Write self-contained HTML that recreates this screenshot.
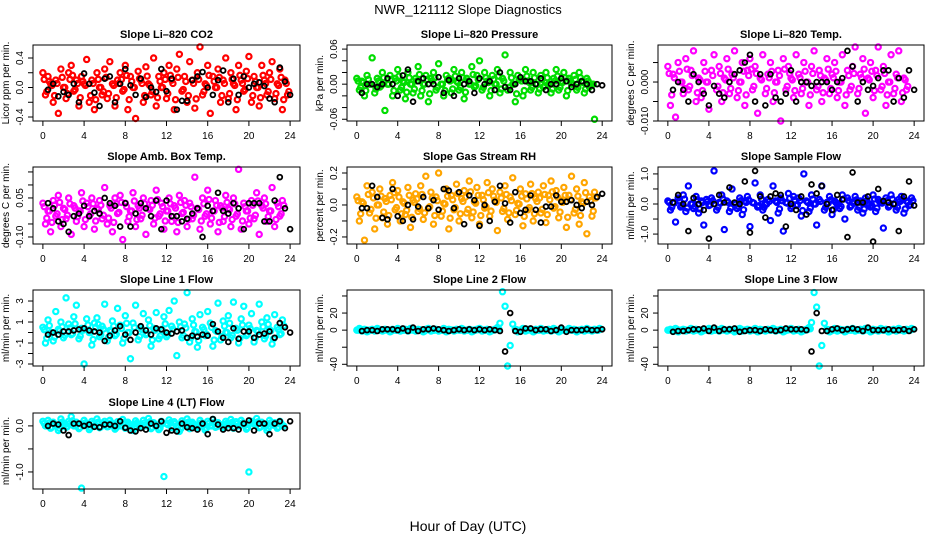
<!DOCTYPE html>
<html><head><meta charset="utf-8">
<style>
html,body{margin:0;padding:0;background:#fff;}
svg{display:block;font-family:"Liberation Sans",sans-serif;}
</style></head>
<body>
<svg id="chart" width="936" height="540" viewBox="0 0 936 540">
<text x="468" y="14" text-anchor="middle" font-size="13">NWR_121112  Slope Diagnostics</text>
<text x="468" y="531" text-anchor="middle" font-size="14">Hour of Day (UTC)</text>
</svg>
<script>
const hours=[0,0.25,0.5,0.75,1,1.25,1.5,1.75,2,2.25,2.5,2.75,3,3.25,3.5,3.75,4,4.25,4.5,4.75,5,5.25,5.5,5.75,6,6.25,6.5,6.75,7,7.25,7.5,7.75,8,8.25,8.5,8.75,9,9.25,9.5,9.75,10,10.25,10.5,10.75,11,11.25,11.5,11.75,12,12.25,12.5,12.75,13,13.25,13.5,13.75,14,14.25,14.5,14.75,15,15.25,15.5,15.75,16,16.25,16.5,16.75,17,17.25,17.5,17.75,18,18.25,18.5,18.75,19,19.25,19.5,19.75,20,20.25,20.5,20.75,21,21.25,21.5,21.75,22,22.25,22.5,22.75,23,23.25,23.5,23.75];
const blackHours=[0.5,1,1.5,2,2.5,3,3.5,4,4.5,5,5.5,6,6.5,7,7.5,8,8.5,9,9.5,10,10.5,11,11.5,12,12.5,13,13.5,14,14.5,15,15.5,16,16.5,17,17.5,18,18.5,19,19.5,20,20.5,21,21.5,22,22.5,23,23.5,24];
const xTicks=[0,4,8,12,16,20,24];

const co2=[0.2,-0.1,0.15,0.05,-0.2,0.1,-0.35,0.25,0.0,-0.15,0.2,0.3,-0.05,0.1,-0.25,0.15,0.05,0.38,-0.2,0.1,-0.3,0.2,0.0,-0.1,
0.25,-0.15,0.35,0.05,-0.25,0.1,0.2,-0.05,0.3,-0.3,0.15,0.0,-0.42,0.22,0.1,-0.2,0.28,0.05,-0.1,0.4,-0.25,0.15,0.0,0.2,
-0.15,0.3,0.1,-0.3,0.25,0.45,-0.05,0.15,-0.2,0.35,0.1,-0.28,0.2,0.55,-0.1,0.05,0.3,-0.35,0.15,0.0,0.25,-0.2,0.1,0.4,
-0.15,0.2,0.05,-0.3,0.3,0.1,-0.05,0.22,0.42,-0.2,0.15,0.0,-0.25,0.3,0.1,-0.1,0.2,0.35,-0.15,0.05,0.25,-0.3,0.1,-0.1];
const co2Black=[-0.03,0.05,-0.12,-0.06,-0.1,0.05,-0.2,0.19,0.05,-0.07,-0.25,0.12,0.15,-0.2,0.05,0.25,0.03,-0.1,0.12,-0.13,0.0,-0.06,0.25,-0.05,0.12,-0.3,-0.18,-0.18,0.1,0.15,0.21,0.0,-0.1,0.1,0.23,-0.2,0.12,-0.1,0.15,0.0,0.05,0.07,0.02,-0.15,-0.2,0.27,0.08,-0.1];

const pres=[0.01,-0.01,0.005,-0.02,0.015,0.0,0.045,-0.015,0.01,-0.005,0.02,-0.045,0.0,0.015,-0.02,0.01,0.025,-0.01,0.005,-0.025,0.02,0.0,-0.015,0.01,
0.03,-0.02,0.0,0.015,-0.03,0.01,0.02,-0.01,0.035,0.0,-0.02,0.015,0.01,-0.015,0.025,0.005,-0.01,0.02,-0.025,0.01,0.0,0.03,-0.005,0.015,
0.04,-0.01,0.02,0.005,-0.02,0.015,0.0,0.025,-0.015,0.01,0.05,-0.01,0.02,0.0,-0.03,0.015,0.01,-0.02,0.025,0.005,-0.01,0.02,0.0,-0.015,
0.015,-0.005,0.02,0.0,-0.015,0.01,0.025,-0.01,0.005,0.02,-0.02,0.01,0.0,0.015,-0.01,0.02,0.005,-0.015,0.01,-0.005,0.0,-0.06];
const presBlack=[-0.015,0.0,0.0,-0.005,0.0,0.01,0.0,-0.02,0.015,0.025,-0.03,0.005,0.01,0.0,0.0,0.012,-0.015,0.007,-0.02,0.01,0.0,0.005,-0.015,0.01,0.0,0.005,-0.01,0.02,-0.005,-0.01,0.0,0.012,0.005,0.005,0.0,0.01,-0.01,0.0,0.0,0.01,0.005,-0.005,0.0,0.005,0.0,-0.01,0.0,-0.002];

const temp=[0.004,-0.006,0.002,-0.009,0.005,0.0,-0.003,0.006,-0.002,0.003,0.008,-0.005,0.001,-0.004,0.005,0.0,-0.007,0.003,0.007,-0.002,0.004,-0.005,0.001,0.006,
-0.003,0.002,0.008,-0.004,0.0,0.005,-0.006,0.003,0.006,-0.002,0.004,-0.008,0.001,0.007,-0.003,0.002,0.005,-0.005,0.0,0.003,-0.01,0.006,-0.002,0.004,
0.001,-0.004,0.007,0.002,-0.003,0.005,0.0,-0.006,0.004,0.008,-0.002,0.003,-0.005,0.001,0.006,-0.003,0.002,0.005,-0.004,0.0,0.007,-0.006,0.003,-0.002,
0.004,0.009,-0.003,0.002,0.006,-0.008,0.001,0.005,-0.004,0.003,0.009,-0.002,0.004,-0.006,0.0,0.007,-0.003,0.002,0.008,-0.005,0.001,-0.002];
const tempBlack=[-0.002,0.0,-0.002,-0.005,0.002,0.0,-0.003,-0.006,-0.001,-0.003,-0.004,0.0,0.002,0.003,0.005,0.007,-0.005,0.002,-0.006,0.002,-0.004,-0.005,-0.003,0.003,-0.005,0.0,0.0,-0.001,0.0,0.0,0.0,-0.002,0.0,0.001,0.008,0.004,-0.005,0.0,-0.002,-0.001,0.001,0.003,0.003,-0.005,0.001,-0.004,0.003,-0.002];

const amb=[0.03,-0.05,0.0,-0.08,0.04,-0.02,0.06,-0.06,0.01,-0.03,0.05,-0.09,0.02,-0.04,0.0,0.07,-0.06,0.03,-0.02,0.05,-0.07,0.01,0.04,-0.03,
0.09,-0.05,0.02,-0.08,0.05,-0.01,0.06,-0.11,0.03,-0.04,0.0,0.07,-0.06,0.02,-0.03,0.05,-0.09,0.01,0.04,-0.05,0.08,-0.02,0.03,-0.07,
0.0,0.05,-0.04,0.02,-0.08,0.06,-0.01,0.04,-0.06,0.03,-0.03,0.13,0.01,-0.07,0.05,-0.02,0.08,-0.05,0.0,0.04,-0.08,0.02,-0.04,0.06,
0.01,-0.06,0.05,-0.02,0.16,-0.07,0.03,0.0,-0.05,0.04,-0.03,0.07,-0.09,0.02,0.05,-0.04,0.0,0.09,-0.06,0.03,-0.02,0.04];
const ambBlack=[0.03,0.01,-0.04,-0.05,-0.08,-0.02,-0.01,0.02,-0.02,0.0,-0.01,0.05,0.03,0.02,-0.06,0.03,-0.06,-0.01,0.03,0.01,-0.02,0.04,-0.07,0.04,-0.02,-0.02,-0.04,-0.03,-0.01,0.01,-0.1,0.02,0.0,0.07,0.0,-0.01,0.03,0.01,-0.07,0.03,0.03,0.03,-0.04,-0.04,0.04,0.13,0.01,-0.07];

const rh=[0.05,-0.1,0.02,-0.22,0.12,-0.05,0.08,-0.15,0.0,0.1,-0.08,0.04,-0.12,0.06,0.14,-0.03,0.09,-0.1,0.02,-0.06,0.11,-0.14,0.03,0.07,
-0.04,0.12,-0.09,0.18,-0.02,0.08,-0.12,0.05,0.2,-0.07,0.01,0.1,-0.15,0.06,-0.03,0.13,-0.1,0.04,0.09,-0.05,0.15,-0.08,0.02,0.11,
-0.12,0.06,-0.02,0.14,-0.07,0.1,0.03,-0.16,0.08,-0.04,0.12,-0.09,0.05,0.17,-0.06,0.01,0.1,-0.13,0.07,-0.03,0.13,-0.1,0.04,0.08,
-0.05,0.12,-0.11,0.06,0.15,-0.02,0.09,-0.08,0.03,0.11,-0.14,0.06,0.18,-0.05,0.1,-0.12,0.02,0.14,-0.18,0.05,-0.07,0.08];
const rhBlack=[-0.02,-0.02,0.12,0.05,-0.08,-0.09,0.1,-0.07,-0.1,0.0,-0.09,-0.01,0.05,-0.02,0.03,-0.03,0.1,0.09,-0.02,0.08,-0.12,0.06,0.03,-0.13,0.0,-0.1,0.02,0.12,0.01,-0.11,0.08,-0.05,-0.03,0.06,-0.03,-0.11,-0.01,-0.01,0.06,0.02,0.02,0.03,0.0,-0.02,0.02,0.0,0.05,0.07];

const flow=[0.1,-0.2,0.05,-0.6,0.2,-0.1,0.3,-0.25,0.6,0.0,-0.15,0.25,-0.3,0.1,-0.7,0.15,-0.05,0.2,1.1,-0.2,0.05,0.3,-0.85,0.1,
-0.25,0.5,0.0,-0.15,0.2,-0.35,0.1,0.25,-0.75,0.05,0.7,-0.1,0.3,-0.2,0.0,0.15,-0.55,0.6,0.1,-0.3,0.2,-0.9,0.05,0.35,
-0.15,0.25,-0.05,0.2,-0.4,1.0,0.1,-0.25,0.3,0.0,-0.7,0.15,0.6,-0.2,0.05,0.25,-0.35,0.1,0.0,-0.15,0.3,-0.5,0.2,-0.1,
0.05,0.25,-0.2,0.1,-0.3,0.2,0.0,-0.1,0.3,-0.25,0.15,0.05,-0.8,0.2,-0.1,0.3,0.0,-0.2,0.15,0.25,-0.3,0.1,-0.05,0.2];
const flowBlack=[0.05,0.3,0.0,-0.9,0.2,0.0,-0.2,-1.15,0.0,0.3,0.05,0.55,0.05,0.0,0.75,-0.95,1.1,0.25,-0.45,0.25,0.35,0.3,-0.75,0.0,-0.2,0.25,-0.35,0.65,0.35,0.6,0.0,-0.2,0.3,0.15,-1.1,1.05,0.05,0.05,0.25,-1.25,0.5,0.1,0.05,0.0,-0.9,0.25,0.75,-0.05];

const l1=[0.5,-1,1.2,0,-0.8,2,0.3,1,-0.5,3.3,0.8,-0.2,1.5,2.6,-0.6,0.4,-3,1.3,0,-1.2,0.9,1.4,-0.4,0.6,
2.7,-0.8,0.2,1.1,-0.3,2.3,0.7,-1,1.6,0,-2.5,0.9,2.6,-0.7,0.5,1.8,-0.2,1.2,-1.3,0.4,1.9,-0.6,0.3,1.5,
-0.4,2.1,0.6,3,-2.2,1,-0.5,0.8,3.8,-0.9,1.3,0.1,-1.4,1.7,0.5,-0.3,2,0.9,-1.3,0.2,2.8,-0.7,1.1,0,
1.6,-0.5,2.9,0.4,-1,1.3,2.5,-0.3,0.7,1.8,-0.9,0.2,2.7,1,-0.6,1.4,0.3,-1.1,1.7,0.5,-0.2,1.2];
const l1Black=[-0.2,0,-0.2,0.1,0.1,0.2,0.3,0.4,0.2,0.1,0,-0.8,-0.3,0.2,0.6,-0.2,-0.7,0,0.6,0.2,-0.2,0.4,0.3,0,-0.1,0.1,0.2,-0.5,-0.3,-0.4,-0.2,-0.3,0.8,0.1,-0.5,-0.9,0.4,-0.6,0.1,0.1,-0.5,-0.2,-0.1,0.1,-0.5,0.9,0.5,0];

const l2=[0,2,-1,1,-2,0,1,-1,2,0,-1,1,0,-2,1,0,2,-1,0,1,-1,2,0,-1,
1,0,-2,1,2,-1,0,1,-1,0,2,-2,1,0,-1,1,0,2,-1,0,1,-2,0,1,
2,-1,0,1,-2,0,1,3,8,45,28,-42,-18,7,1,-2,0,2,-1,1,0,-2,1,0,
2,-1,0,1,-1,2,0,-2,1,0,-1,2,0,1,-2,0,1,-1,2,0,-1,1,0,2];
const l2Black=[-1,0,0,-1,1,1,1,0,2,-1,3,-1,1,1,2,1,0,-1,0,1,0,1,0,1,0,1,0,-1,-25,20,-1,-2,2,2,0,1,1,-1,0,3,-2,0,0,0,1,0,0,1];

const l3=[0,1,-1,2,-2,0,1,-1,0,2,-1,1,0,-2,1,0,2,-1,0,1,-1,2,0,-1,
1,0,-2,1,2,-1,0,1,-1,0,2,-2,1,0,-1,1,0,2,-1,0,1,-2,0,1,
2,-1,0,1,-2,0,1,3,9,44,27,-42,-18,8,1,-2,0,2,-1,1,0,-2,1,0,
2,-1,0,1,-1,2,0,-2,1,0,-1,2,0,1,-2,0,1,-1,2,0,-1,1,0,2];
const l3Black=[-2,-1,-1,0,1,1,2,-1,3,-1,1,1,2,-2,-1,0,0,-1,1,0,-1,0,2,1,1,1,0,-25,20,-1,-1,1,2,0,1,2,1,-1,3,0,0,0,1,0,0,1,-1,1];

const l4=[0.1,0.0,0.12,-0.05,0.08,0.02,-0.1,0.15,0.05,-0.03,0.1,0.2,0.0,0.08,-0.06,-1.35,0.12,0.03,-0.08,0.1,0.0,0.15,-0.04,0.06,
0.1,-0.02,0.12,0.05,-0.07,0.09,0.0,0.14,-0.05,0.08,0.02,-0.1,0.11,0.04,-0.03,0.12,0.0,0.16,-0.06,0.07,0.02,-0.08,0.1,-1.1,
0.05,0.13,-0.04,0.09,0.0,-0.12,0.11,0.03,0.15,-0.06,0.08,0.01,-0.05,0.12,0.04,-0.09,0.1,0.0,0.14,-0.03,0.07,0.02,-0.06,0.1,
0.04,0.14,-0.05,0.09,0.0,0.12,0.03,-0.07,-1.0,0.1,0.05,0.16,-0.04,0.08,0.0,-0.1,0.12,0.03,0.07,-0.05,0.1,0.0];
const l4Black=[0.0,0.05,0.03,-0.1,-0.2,0.05,0.05,0.0,0.03,-0.02,-0.03,0.03,0.03,0.0,0.1,-0.04,-0.1,-0.12,-0.05,-0.08,0.05,0.0,0.1,-0.15,-0.1,-0.12,0.05,-0.03,-0.05,-0.08,0.05,-0.18,0.15,0.03,-0.08,-0.05,-0.05,-0.08,0.05,0.12,-0.1,0.05,0.05,-0.18,0.05,0.1,-0.05,0.1];

const titles=["Slope Li\u2013820 CO2","Slope Li\u2013820 Pressure","Slope Li\u2013820 Temp.","Slope Amb. Box Temp.","Slope Gas Stream RH","Slope Sample Flow","Slope Line 1 Flow","Slope Line 2 Flow","Slope Line 3 Flow","Slope Line 4 (LT) Flow"];
const yTitles=["Licor ppm per min.","kPa per min.","degrees C per min.","degrees C per min.","percent per min.","ml/min per min.","ml/min per min.","ml/min per min.","ml/min per min.","ml/min per min."];
const yTickSets=[[-0.4,-0.2,0,0.2,0.4],[-0.06,-0.04,-0.02,0,0.02,0.04,0.06],[-0.01,-0.005,0,0.005],[-0.1,-0.05,0,0.05,0.1,0.15],[-0.2,-0.1,0,0.1,0.2],[-1,-0.5,0,0.5,1],[-3,-2,-1,0,1,2,3],[-40,-20,0,20,40],[-40,-20,0,20,40],[-1,-0.5,0]];
const yTickLabels=[["-0.4","","0.0","","0.4"],["-0.06","","","0.00","","","0.06"],["-0.010","","0.000",""],["-0.10","","","0.05","",""],["-0.2","","0.0","","0.2"],["-1.0","","0.0","","1.0"],["-3","","-1","","1","","3"],["-40","","0","20",""],["-40","","0","20",""],["-1.0","","0.0"]];
const yLims=[[-0.454,0.576],[-0.063,0.067],[-0.0100,0.0095],[-0.127,0.169],[-0.244,0.2375],[-1.33,1.23],[-3.19,4.05],[-42,47],[-42,47],[-1.37,0.28]];
const coreLimits=[0.3,0.03,0.006,0.08,0.15,0.4,1.6,3,3,0.2];
const colors=["#ff0000","#00dd00","#ff00ff","#ff00ff","#ffa500","#0000ff","#00ffff","#00ffff","#00ffff","#00ffff"];
const series=[co2,pres,temp,amb,rh,flow,l1,l2,l3,l4];
const blackSeries=[co2Black,presBlack,tempBlack,ambBlack,rhBlack,flowBlack,l1Black,l2Black,l3Black,l4Black];

const colX=[[33,300],[347,612],[658,924]];
const rowY=[[45,121],[167,244],[290,366],[413,489]];
const NS="http://www.w3.org/2000/svg";
const svg=document.getElementById('chart');
function mk(tag,attrs,parent){const e=document.createElementNS(NS,tag);for(const k in attrs)e.setAttribute(k,attrs[k]);(parent||svg).appendChild(e);return e;}

series.forEach((vals,i)=>{
  const c=colX[i%3],r=rowY[Math.floor(i/3)];
  const x0=c[0],x1=c[1],yT=r[0],yB=r[1];
  const xs=h=>x0+(h+0.96)/25.92*(x1-x0);
  const lim=yLims[i];
  const ys=v=>yB-(v-lim[0])/(lim[1]-lim[0])*(yB-yT);
  const g=mk('g',{});
  
  
  const t=mk('text',{x:(x0+x1)/2,y:yT-7,'text-anchor':'middle','font-size':11,'font-weight':'bold'},g);
  t.textContent=titles[i];
  
  
  vals.forEach((v,j)=>{
    if(j>=hours.length)return;
    const p=mk('circle',{cx:xs(hours[j]),cy:ys(v),r:2.6,fill:'none',stroke:colors[i],'stroke-width':2.2},g);
    
    
    if(Math.abs(v)<=coreLimits[i]){
      const p2=mk('circle',{cx:xs(hours[j])+1.3,cy:ys(v*0.55),r:2.6,fill:'none',stroke:colors[i],'stroke-width':2.2},g);
      
      
    }
  });
  blackSeries[i].forEach((v,j)=>{
    if(j>=blackHours.length)return;
    const p=mk('circle',{cx:xs(blackHours[j]),cy:ys(v),r:2.4,fill:'none',stroke:'#000','stroke-width':1.8},g);
    
    
  });
  const box=mk('rect',{x:x0,y:yT,width:x1-x0,height:yB-yT,fill:'none',stroke:'#000','stroke-width':1},g);
  
  
  xTicks.forEach(h=>{
    const x=xs(h);
    const tk=mk('line',{x1:x,x2:x,y1:yB,y2:yB+5,stroke:'#000'},g);
    
    
    const lb=mk('text',{x:x,y:yB+18,'text-anchor':'middle','font-size':10},g);
    lb.textContent=String(h);
    
    
  });
  yTickSets[i].forEach((v,k)=>{
    const y=ys(v);
    const tk=mk('line',{x1:x0-5,x2:x0,y1:y,y2:y,stroke:'#000'},g);
    
    
    const s=yTickLabels[i][k];
    if(s){
      const lb=mk('text',{x:x0-10,y:y,'text-anchor':'middle','font-size':10,transform:`rotate(-90 ${x0-10} ${y})`},g);
      lb.textContent=s;
      
      
    }
  });
  const yc=(yT+yB)/2, xt=x0-24;
  const yt=mk('text',{x:xt,y:yc,'text-anchor':'middle','font-size':10,transform:`rotate(-90 ${xt} ${yc})`},g);
  yt.textContent=yTitles[i];
  
  
});
</script>
</body></html>
